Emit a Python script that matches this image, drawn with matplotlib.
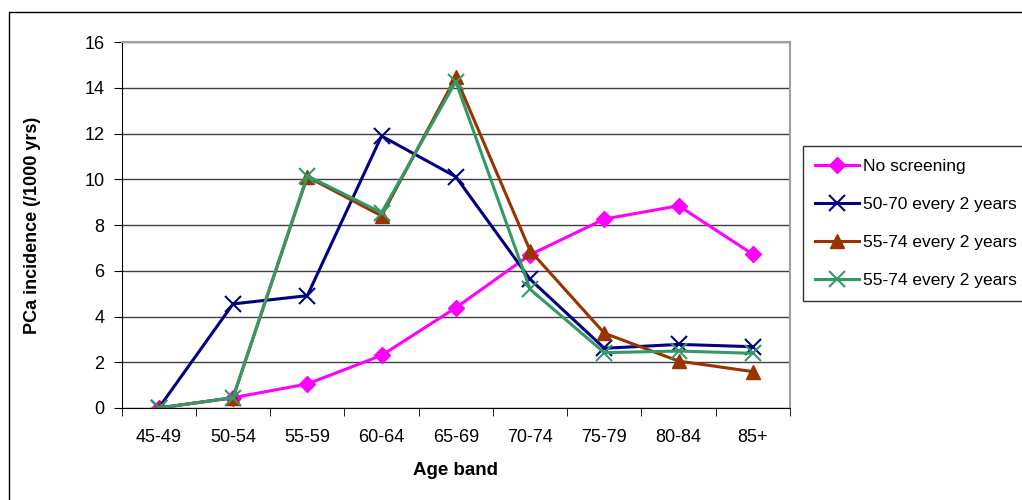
import matplotlib.pyplot as plt
from matplotlib.patches import Rectangle
import numpy as np

plt.rcParams['font.family'] = ['Liberation Sans', 'DejaVu Sans']

# Age bands and incidence per 1000 person-years
age_bands = ['45-49', '50-54', '55-59', '60-64', '65-69', '70-74', '75-79', '80-84', '85+']
no_screening = [0.0, 0.45, 1.05, 2.3, 4.38, 6.7, 8.26, 8.84, 6.72]
every2_50_70 = [0.0, 4.55, 4.91, 11.89, 10.11, 5.63, 2.61, 2.78, 2.68]
every2_55_74 = [0.0, 0.45, 10.11, 8.4, 14.46, 6.88, 3.27, 2.05, 1.59]
every2_55_74b = [0.0, 0.45, 10.15, 8.54, 14.27, 5.19, 2.42, 2.49, 2.39]

fig = plt.figure(figsize=(10.22, 5.0), dpi=100)
ax = fig.add_axes([0.119, 0.184, 0.654, 0.732])

x = np.arange(len(age_bands))
ax.plot(x, no_screening, color='#ff00ff', lw=2.2, marker='D', ms=8, label='No screening')
ax.plot(x, every2_50_70, color='#000080', lw=2.2, marker='x', ms=11, mew=1.5, label='50-70 every 2 years')
ax.plot(x, every2_55_74, color='#993300', lw=2.2, marker='^', ms=10, label='55-74 every 2 years')
ax.plot(x, every2_55_74b, color='#339966', lw=2.2, marker='x', ms=11, mew=1.5, label='55-74 every 2 years')

ax.set_xlim(-0.5, len(age_bands) - 0.5)
ax.set_ylim(0, 16)
ax.set_yticks(np.arange(0, 17, 2))
ax.set_xticks(x)
ax.set_xticklabels(age_bands)
ax.set_xticks(np.arange(-0.5, len(age_bands)), minor=True)
ax.tick_params(axis='x', which='major', length=0, pad=15, labelsize=13)
ax.tick_params(axis='x', which='minor', length=6, direction='out', color='black')
ax.tick_params(axis='y', length=6, direction='out', labelsize=13, pad=6.5)

ax.grid(axis='y', color='#404040', lw=1)
ax.set_axisbelow(True)
for side in ['top', 'right']:
    ax.spines[side].set_color('#a0a0a0')
    ax.spines[side].set_linewidth(1.5)
ax.spines['left'].set_color('black')
ax.spines['bottom'].set_color('black')

ax.set_xlabel('Age band', fontsize=13.5, fontweight='bold')
ax.set_ylabel('PCa incidence (/1000 yrs)', fontsize=13, fontweight='bold')
ax.xaxis.set_label_coords(0.5, -0.1475)
ax.yaxis.set_label_coords(-0.121, 0.5)

leg = fig.legend(loc='upper left', bbox_to_anchor=(0.7857, 0.708), fontsize=12.5,
                 frameon=True, fancybox=False, edgecolor='black', borderpad=0.72,
                 labelspacing=1.33, handlelength=2.5, handletextpad=0.23, borderaxespad=0)
leg.get_frame().set_linewidth(1.0)

# outer chart border
fig.patches.append(Rectangle((0.009, -0.1), 1.1, 1.076, transform=fig.transFigure,
                             fill=False, edgecolor='black', lw=1.0))

fig.savefig('out.png', dpi=100)
